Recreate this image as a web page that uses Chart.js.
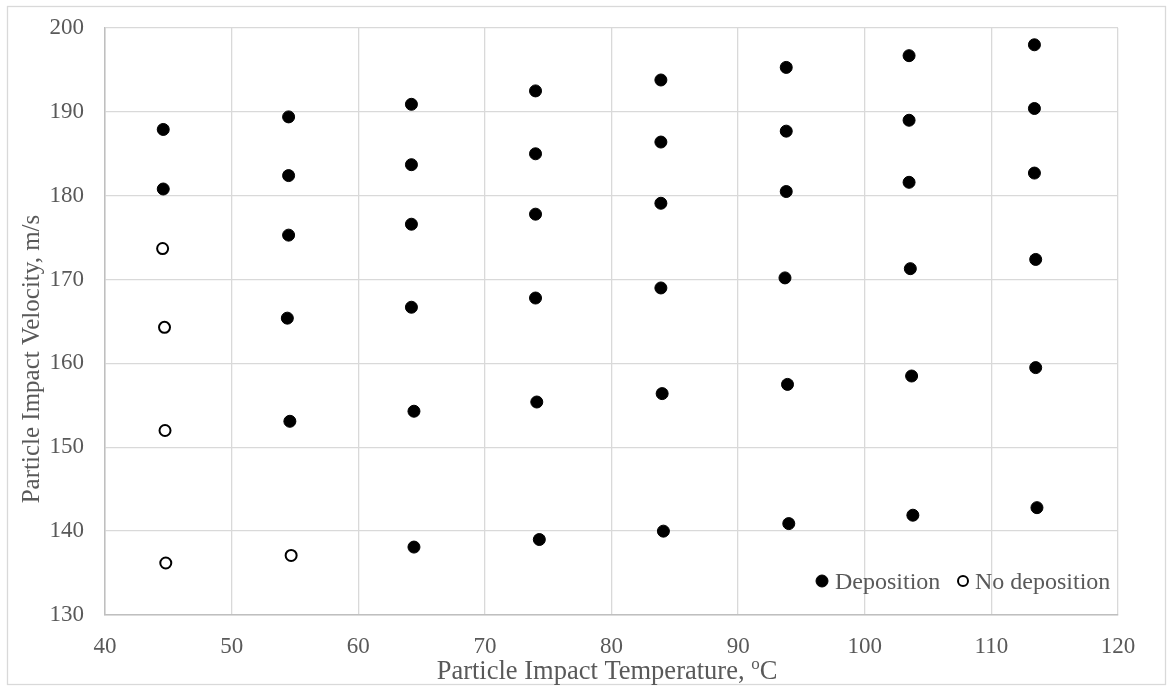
<!DOCTYPE html>
<html>
<head>
<meta charset="utf-8">
<script src="https://cdn.jsdelivr.net/npm/chart.js@4/dist/chart.umd.min.js"></script>
<style>
  html, body { margin: 0; padding: 0; background: #fff; }
  #wrap { width: 1171px; height: 686px; position: relative; }
</style>
</head>
<body>
<div id="wrap"><canvas id="chart"></canvas></div>
<script>
// values
const depTemp = [
  44.6, 44.6,
  54.5, 54.5, 54.5, 54.4, 54.6,
  64.2, 64.2, 64.2, 64.2, 64.4, 64.4,
  74.0, 74.0, 74.0, 74.0, 74.1, 74.3,
  83.9, 83.9, 83.9, 83.9, 84.0, 84.1,
  93.8, 93.8, 93.8, 93.7, 93.9, 94.0,
  103.5, 103.5, 103.5, 103.6, 103.7, 103.8,
  113.4, 113.4, 113.4, 113.5, 113.5, 113.6
];
const depVel = [
  187.9, 180.8,
  189.4, 182.4, 175.3, 165.4, 153.1,
  190.9, 183.7, 176.6, 166.7, 154.3, 138.1,
  192.5, 185.0, 177.8, 167.8, 155.4, 139.0,
  193.8, 186.4, 179.1, 169.0, 156.4, 140.0,
  195.3, 187.7, 180.5, 170.2, 157.5, 140.9,
  196.7, 189.0, 181.6, 171.3, 158.5, 141.9,
  198.0, 190.4, 182.7, 172.4, 159.5, 142.8
];
const noDepTemp = [44.55, 44.7, 44.74, 44.8, 54.7];
const noDepVel = [173.7, 164.3, 152.0, 136.2, 137.1];

const seriesNames = ["Deposition", "No deposition"];
const xTicks = [40, 50, 60, 70, 80, 90, 100, 110, 120];
const yTicks = [130, 140, 150, 160, 170, 180, 190, 200];
const xTitleMain = "Particle Impact Temperature, ";
const xTitleSup = "o";
const xTitleUnit = "C";
const yTitle = "Particle Impact Velocity, m/s";

const textColor = "#595959";
const serif = "'Liberation Serif', 'Times New Roman', serif";

function toPoints(xs, ys) {
  return xs.map((x, i) => ({ x: x, y: ys[i] }));
}

// outer frame, titles and the legend inside the plot
const extras = {
  id: "extras",
  beforeDraw(chart) {
    const ctx = chart.ctx;
    ctx.save();
    ctx.fillStyle = "#fff";
    ctx.fillRect(0, 0, chart.width, chart.height);
    ctx.strokeStyle = "#d9d9d9";
    ctx.lineWidth = 1.3;
    ctx.strokeRect(7.5, 6.5, 1158, 678);
    ctx.restore();
  },
  afterDraw(chart) {
    const ctx = chart.ctx;
    ctx.save();
    ctx.fillStyle = textColor;
    ctx.textBaseline = "alphabetic";

    // x title with superscript o
    ctx.font = "26.5px " + serif;
    const wMain = ctx.measureText(xTitleMain).width;
    const wUnit = ctx.measureText(xTitleUnit).width;
    ctx.font = "17px " + serif;
    const wSup = ctx.measureText(xTitleSup).width;
    let x = 607 - (wMain + wSup + wUnit) / 2;
    ctx.textAlign = "left";
    ctx.font = "26.5px " + serif;
    ctx.fillText(xTitleMain, x, 679);
    x += wMain;
    ctx.font = "17px " + serif;
    ctx.fillText(xTitleSup, x, 669);
    x += wSup;
    ctx.font = "26.5px " + serif;
    ctx.fillText(xTitleUnit, x, 679);

    // y title
    ctx.save();
    ctx.translate(39, 359);
    ctx.rotate(-Math.PI / 2);
    ctx.textAlign = "center";
    ctx.font = "25px " + serif;
    ctx.fillText(yTitle, 0, 0);
    ctx.restore();

    // legend
    const items = [
      { mx: 822, tx: 835 },
      { mx: 963, tx: 975 }
    ];
    ctx.font = "24px " + serif;
    ctx.textAlign = "left";
    chart.data.datasets.forEach((ds, i) => {
      const it = items[i];
      ctx.beginPath();
      ctx.arc(it.mx, 581, i === 0 ? 6 : 5, 0, Math.PI * 2);
      ctx.fillStyle = ds.backgroundColor;
      ctx.fill();
      ctx.lineWidth = ds.borderWidth;
      ctx.strokeStyle = ds.borderColor;
      ctx.stroke();
      ctx.fillStyle = textColor;
      ctx.fillText(ds.label, it.tx, 589);
    });
    ctx.restore();
  }
};

const chart = new Chart(document.getElementById("chart"), {
  type: "scatter",
  data: {
    datasets: [
      {
        label: seriesNames[0],
        data: toPoints(depTemp, depVel),
        backgroundColor: "#000000",
        borderColor: "#000000",
        borderWidth: 1,
        pointRadius: 6,
        pointHoverRadius: 6
      },
      {
        label: seriesNames[1],
        data: toPoints(noDepTemp, noDepVel),
        backgroundColor: "#ffffff",
        borderColor: "#000000",
        borderWidth: 2,
        pointRadius: 5.5,
        pointHoverRadius: 5.5
      }
    ]
  },
  options: {
    responsive: true,
    maintainAspectRatio: false,
    animation: false,
    layout: { padding: { left: 0, right: 53, top: 28, bottom: 0 } },
    plugins: {
      legend: { display: false },
      tooltip: { enabled: false }
    },
    scales: {
      x: {
        type: "linear",
        min: xTicks[0],
        max: xTicks[xTicks.length - 1],
        afterBuildTicks: (s) => { s.ticks = xTicks.map(v => ({ value: v })); },
        afterFit: (s) => { s.height = 71; s.paddingLeft = 0; s.paddingRight = 0; },
        grid: { color: "#d9d9d9", lineWidth: 1.3, drawTicks: false },
        border: { color: "#bfbfbf", width: 1.5 },
        ticks: {
          color: textColor,
          font: { family: serif, size: 23 },
          padding: 18,
          maxRotation: 0
        }
      },
      y: {
        type: "linear",
        min: yTicks[0],
        max: yTicks[yTicks.length - 1],
        afterBuildTicks: (s) => { s.ticks = yTicks.map(v => ({ value: v })); },
        afterFit: (s) => { s.width = 105; s.paddingTop = 0; s.paddingBottom = 0; },
        grid: { color: "#d9d9d9", lineWidth: 1.3, drawTicks: false },
        border: { color: "#bfbfbf", width: 1.5 },
        ticks: {
          color: textColor,
          font: { family: serif, size: 23 },
          padding: 21
        }
      }
    }
  },
  plugins: [extras]
});
</script>
</body>
</html>
